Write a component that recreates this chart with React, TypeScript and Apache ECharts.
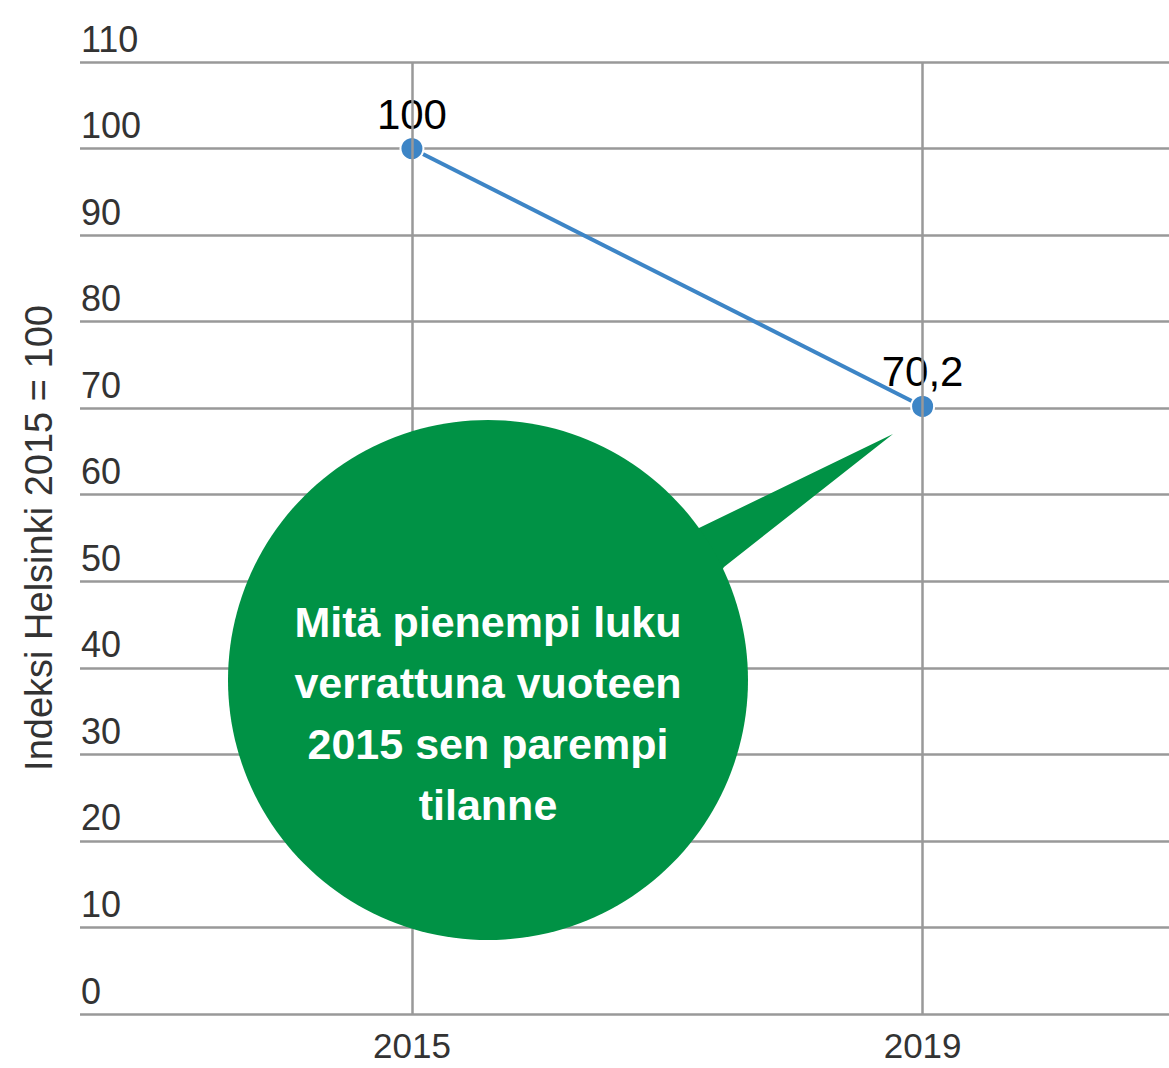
import React, { useEffect, useRef } from "react";
import * as echarts from "echarts";

const years: number[] = [2015, 2019];
const indexValues: number[] = [100, 70.2];
const xLabelYears: number[] = [2015, 2019];
const yMin = 0;
const yMax = 110;
const yStep = 10;
const xMin = 2012.4;
const xMax = 2020.93;
const yAxisTitle = "Indeksi Helsinki 2015 = 100";
const calloutLines: string[] = [
  "Mitä pienempi luku",
  "verrattuna vuoteen",
  "2015 sen parempi",
  "tilanne",
];

const GRID = "#999999";
const TEXT = "#333333";
const LINE = "#3d85c6";
const GREEN = "#009245";
const SANS = "'Liberation Sans', Arial, sans-serif";

export default function App() {
  const ref = useRef<HTMLDivElement>(null);
  useEffect(() => {
    document.body.style.margin = "0";
    const chart = echarts.init(ref.current!, undefined, { renderer: "svg" });
    const data = years.map((y, i) => [y, indexValues[i]]);
    const bubbleCx = 488;
    const bubbleCy = 680;
    const bubbleR = 260;
    chart.setOption({
      animation: false,
      grid: {
        left: 80,
        right: 0,
        top: 62,
        bottom: 54,
        containLabel: false,
        outerBoundsMode: "none",
      },
      xAxis: {
        type: "value",
        min: xMin,
        max: xMax,
        axisLine: { show: false },
        axisTick: { show: false },
        splitLine: { show: false },
        axisLabel: {
          customValues: xLabelYears,
          fontSize: 35,
          lineHeight: 35,
          fontFamily: SANS,
          color: TEXT,
          margin: 14,
          formatter: (v: number) => String(Math.round(v)),
        },
      },
      yAxis: {
        type: "value",
        min: yMin,
        max: yMax,
        interval: yStep,
        name: yAxisTitle,
        nameLocation: "middle",
        nameGap: 22,
        nameTextStyle: { fontSize: 38, fontFamily: SANS, color: TEXT },
        axisLine: { show: false },
        axisTick: { show: false },
        splitLine: { show: true, lineStyle: { color: GRID, width: 2.5 } },
        axisLabel: {
          inside: true,
          margin: 1,
          align: "left",
          verticalAlign: "bottom",
          fontSize: 36,
          lineHeight: 36,
          padding: [0, 0, 5, 0],
          fontFamily: SANS,
          color: TEXT,
        },
      },
      series: [
        {
          type: "line",
          data,
          z: 1,
          silent: true,
          showSymbol: false,
          lineStyle: { opacity: 0 },
          markLine: {
            silent: true,
            symbol: ["none", "none"],
            label: { show: false },
            lineStyle: { color: GRID, width: 2.5, type: "solid" },
            data: xLabelYears.map((y) => ({ xAxis: y })),
          },
        },
        {
          type: "line",
          data,
          z: 3,
          symbol: "circle",
          symbolSize: 23,
          itemStyle: { color: LINE, borderColor: "#ffffff", borderWidth: 2 },
          lineStyle: { color: LINE, width: 4 },
          label: {
            show: true,
            position: "top",
            distance: 1,
            fontSize: 42,
            fontFamily: SANS,
            color: "#000000",
            formatter: (p: any) => String(p.value[1]).replace(".", ","),
          },
        },
      ],
      graphic: [
        {
          type: "polygon",
          z: 100,
          shape: {
            points: [
              [650, 600],
              [699, 528],
              [893, 434],
              [724, 567],
              [680, 640],
            ],
          },
          style: { fill: GREEN },
        },
        {
          type: "circle",
          z: 100,
          shape: { cx: bubbleCx, cy: bubbleCy, r: bubbleR },
          style: { fill: GREEN },
        },
        ...calloutLines.map((t, i) => ({
          type: "text",
          z: 101,
          x: bubbleCx,
          y: 622 + i * 61,
          style: {
            text: t,
            fill: "#ffffff",
            fontSize: 43,
            fontWeight: "bold",
            fontFamily: SANS,
            align: "center",
            verticalAlign: "middle",
          },
        })),
      ],
    });
    return () => chart.dispose();
  }, []);
  return (
    <div
      ref={ref}
      style={{ position: "absolute", left: 0, top: 0, width: 1169, height: 1068 }}
    />
  );
}
